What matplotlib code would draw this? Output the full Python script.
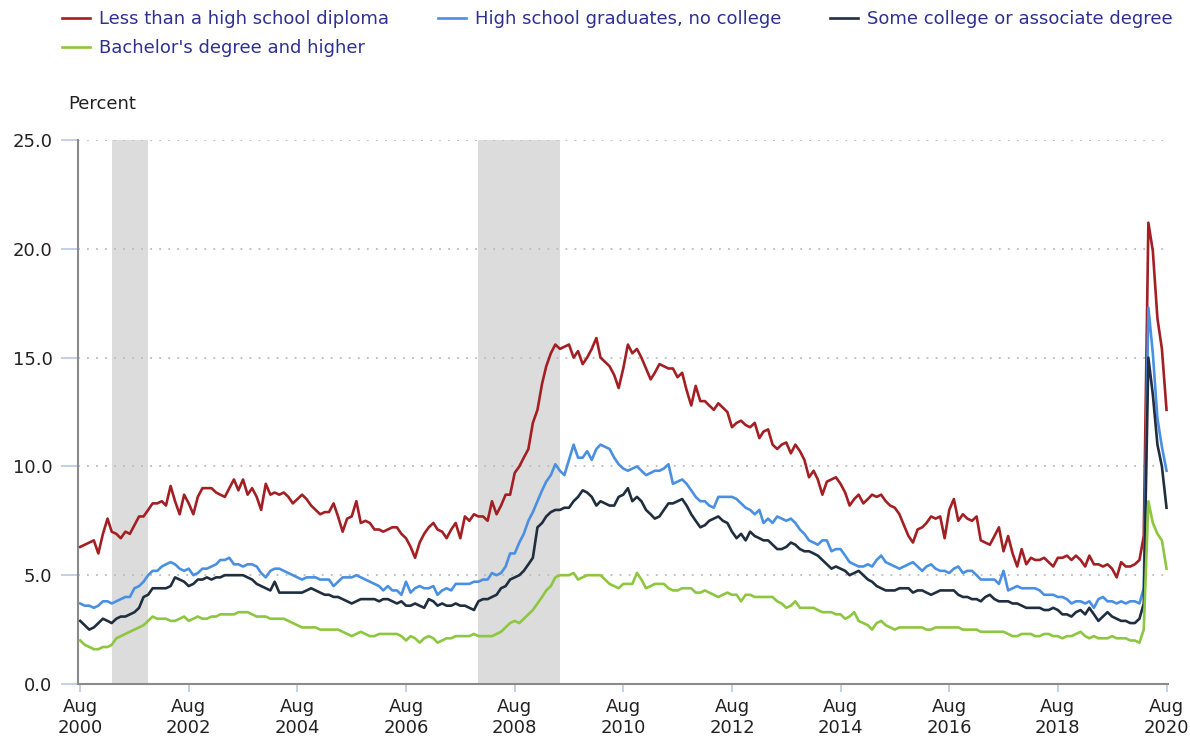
import numpy as np
import pandas as pd
import matplotlib
matplotlib.use('Agg')
import matplotlib.pyplot as plt

plt.rcParams['font.family'] = ['DejaVu Sans']

# Monthly unemployment rates, Aug 2000 - Aug 2020 (each row = Aug..Jul)
less_hs = [
    6.3, 6.4, 6.5, 6.6, 6.0, 6.9, 7.6, 7.0, 6.9, 6.7, 7.0, 6.9,
    7.3, 7.7, 7.7, 8.0, 8.3, 8.3, 8.4, 8.2, 9.1, 8.4, 7.8, 8.7,
    8.3, 7.8, 8.6, 9.0, 9.0, 9.0, 8.8, 8.7, 8.6, 9.0, 9.4, 8.9,
    9.4, 8.7, 9.0, 8.6, 8.0, 9.2, 8.7, 8.8, 8.7, 8.8, 8.6, 8.3,
    8.5, 8.7, 8.5, 8.2, 8.0, 7.8, 7.9, 7.9, 8.3, 7.7, 7.0, 7.6,
    7.7, 8.4, 7.4, 7.5, 7.4, 7.1, 7.1, 7.0, 7.1, 7.2, 7.2, 6.9,
    6.7, 6.3, 5.8, 6.5, 6.9, 7.2, 7.4, 7.1, 7.0, 6.7, 7.1, 7.4,
    6.7, 7.7, 7.5, 7.8, 7.7, 7.7, 7.5, 8.4, 7.8, 8.2, 8.7, 8.7,
    9.7, 10.0, 10.4, 10.8, 12.0, 12.6, 13.8, 14.6, 15.2, 15.6, 15.4, 15.5,
    15.6, 15.0, 15.3, 14.7, 15.0, 15.4, 15.9, 15.0, 14.8, 14.6, 14.2, 13.6,
    14.5, 15.6, 15.2, 15.4, 15.0, 14.5, 14.0, 14.3, 14.7, 14.6, 14.5, 14.5,
    14.1, 14.3, 13.5, 12.8, 13.7, 13.0, 13.0, 12.8, 12.6, 12.9, 12.7, 12.5,
    11.8, 12.0, 12.1, 11.9, 11.8, 12.0, 11.3, 11.6, 11.7, 11.0, 10.8, 11.0,
    11.1, 10.6, 11.0, 10.7, 10.3, 9.5, 9.8, 9.4, 8.7, 9.3, 9.4, 9.5,
    9.2, 8.8, 8.2, 8.5, 8.7, 8.3, 8.5, 8.7, 8.6, 8.7, 8.4, 8.2,
    8.1, 7.8, 7.3, 6.8, 6.5, 7.1, 7.2, 7.4, 7.7, 7.6, 7.7, 6.7,
    8.0, 8.5, 7.5, 7.8, 7.6, 7.5, 7.7, 6.6, 6.5, 6.4, 6.8, 7.2,
    6.1, 6.8, 6.0, 5.4, 6.2, 5.5, 5.8, 5.7, 5.7, 5.8, 5.6, 5.4,
    5.8, 5.8, 5.9, 5.7, 5.9, 5.7, 5.4, 5.9, 5.5, 5.5, 5.4, 5.5,
    5.3, 4.9, 5.6, 5.4, 5.4, 5.5, 5.7, 6.8, 21.2, 19.9, 16.8, 15.4,
    12.6,
]

hs_grad = [
    3.7, 3.6, 3.6, 3.5, 3.6, 3.8, 3.8, 3.7, 3.8, 3.9, 4.0, 4.0,
    4.4, 4.5, 4.7, 5.0, 5.2, 5.2, 5.4, 5.5, 5.6, 5.5, 5.3, 5.2,
    5.3, 5.0, 5.1, 5.3, 5.3, 5.4, 5.5, 5.7, 5.7, 5.8, 5.5, 5.5,
    5.4, 5.5, 5.5, 5.4, 5.1, 4.9, 5.2, 5.3, 5.3, 5.2, 5.1, 5.0,
    4.9, 4.8, 4.9, 4.9, 4.9, 4.8, 4.8, 4.8, 4.5, 4.7, 4.9, 4.9,
    4.9, 5.0, 4.9, 4.8, 4.7, 4.6, 4.5, 4.3, 4.5, 4.3, 4.3, 4.1,
    4.7, 4.2, 4.4, 4.5, 4.4, 4.4, 4.5, 4.1, 4.3, 4.4, 4.3, 4.6,
    4.6, 4.6, 4.6, 4.7, 4.7, 4.8, 4.8, 5.1, 5.0, 5.1, 5.4, 6.0,
    6.0, 6.5, 6.9, 7.5, 7.9, 8.4, 8.9, 9.3, 9.6, 10.1, 9.8, 9.6,
    10.3, 11.0, 10.4, 10.4, 10.7, 10.3, 10.8, 11.0, 10.9, 10.8, 10.4, 10.1,
    9.9, 9.8, 9.9, 10.0, 9.8, 9.6, 9.7, 9.8, 9.8, 9.9, 10.1, 9.2,
    9.3, 9.4, 9.2, 8.9, 8.6, 8.4, 8.4, 8.2, 8.1, 8.6, 8.6, 8.6,
    8.6, 8.5, 8.3, 8.1, 8.0, 7.8, 8.0, 7.4, 7.6, 7.4, 7.7, 7.6,
    7.5, 7.6, 7.4, 7.1, 6.9, 6.6, 6.5, 6.4, 6.6, 6.6, 6.1, 6.2,
    6.2, 5.9, 5.6, 5.5, 5.4, 5.4, 5.5, 5.4, 5.7, 5.9, 5.6, 5.5,
    5.4, 5.3, 5.4, 5.5, 5.6, 5.4, 5.2, 5.4, 5.5, 5.3, 5.2, 5.2,
    5.1, 5.3, 5.4, 5.1, 5.2, 5.2, 5.0, 4.8, 4.8, 4.8, 4.8, 4.6,
    5.2, 4.3, 4.4, 4.5, 4.4, 4.4, 4.4, 4.4, 4.3, 4.1, 4.1, 4.1,
    4.0, 4.0, 3.9, 3.7, 3.8, 3.8, 3.7, 3.8, 3.5, 3.9, 4.0, 3.8,
    3.8, 3.7, 3.8, 3.7, 3.8, 3.8, 3.7, 4.4, 17.3, 15.2, 12.2, 10.9,
    9.8,
]

some_college = [
    2.9, 2.7, 2.5, 2.6, 2.8, 3.0, 2.9, 2.8, 3.0, 3.1, 3.1, 3.2,
    3.3, 3.5, 4.0, 4.1, 4.4, 4.4, 4.4, 4.4, 4.5, 4.9, 4.8, 4.7,
    4.5, 4.6, 4.8, 4.8, 4.9, 4.8, 4.9, 4.9, 5.0, 5.0, 5.0, 5.0,
    5.0, 4.9, 4.8, 4.6, 4.5, 4.4, 4.3, 4.7, 4.2, 4.2, 4.2, 4.2,
    4.2, 4.2, 4.3, 4.4, 4.3, 4.2, 4.1, 4.1, 4.0, 4.0, 3.9, 3.8,
    3.7, 3.8, 3.9, 3.9, 3.9, 3.9, 3.8, 3.9, 3.9, 3.8, 3.7, 3.8,
    3.6, 3.6, 3.7, 3.6, 3.5, 3.9, 3.8, 3.6, 3.7, 3.6, 3.6, 3.7,
    3.6, 3.6, 3.5, 3.4, 3.8, 3.9, 3.9, 4.0, 4.1, 4.4, 4.5, 4.8,
    4.9, 5.0, 5.2, 5.5, 5.8, 7.2, 7.4, 7.7, 7.9, 8.0, 8.0, 8.1,
    8.1, 8.4, 8.6, 8.9, 8.8, 8.6, 8.2, 8.4, 8.3, 8.2, 8.2, 8.6,
    8.7, 9.0, 8.4, 8.6, 8.4, 8.0, 7.8, 7.6, 7.7, 8.0, 8.3, 8.3,
    8.4, 8.5, 8.2, 7.8, 7.5, 7.2, 7.3, 7.5, 7.6, 7.7, 7.5, 7.4,
    7.0, 6.7, 6.9, 6.6, 7.0, 6.8, 6.7, 6.6, 6.6, 6.4, 6.2, 6.2,
    6.3, 6.5, 6.4, 6.2, 6.1, 6.1, 6.0, 5.9, 5.7, 5.5, 5.3, 5.4,
    5.3, 5.2, 5.0, 5.1, 5.2, 5.0, 4.8, 4.7, 4.5, 4.4, 4.3, 4.3,
    4.3, 4.4, 4.4, 4.4, 4.2, 4.3, 4.3, 4.2, 4.1, 4.2, 4.3, 4.3,
    4.3, 4.3, 4.1, 4.0, 4.0, 3.9, 3.9, 3.8, 4.0, 4.1, 3.9, 3.8,
    3.8, 3.8, 3.7, 3.7, 3.6, 3.5, 3.5, 3.5, 3.5, 3.4, 3.4, 3.5,
    3.4, 3.2, 3.2, 3.1, 3.3, 3.4, 3.2, 3.5, 3.2, 2.9, 3.1, 3.3,
    3.1, 3.0, 2.9, 2.9, 2.8, 2.8, 3.0, 3.7, 15.0, 13.3, 11.0, 10.0,
    8.1,
]

bachelors = [
    2.0, 1.8, 1.7, 1.6, 1.6, 1.7, 1.7, 1.8, 2.1, 2.2, 2.3, 2.4,
    2.5, 2.6, 2.7, 2.9, 3.1, 3.0, 3.0, 3.0, 2.9, 2.9, 3.0, 3.1,
    2.9, 3.0, 3.1, 3.0, 3.0, 3.1, 3.1, 3.2, 3.2, 3.2, 3.2, 3.3,
    3.3, 3.3, 3.2, 3.1, 3.1, 3.1, 3.0, 3.0, 3.0, 3.0, 2.9, 2.8,
    2.7, 2.6, 2.6, 2.6, 2.6, 2.5, 2.5, 2.5, 2.5, 2.5, 2.4, 2.3,
    2.2, 2.3, 2.4, 2.3, 2.2, 2.2, 2.3, 2.3, 2.3, 2.3, 2.3, 2.2,
    2.0, 2.2, 2.1, 1.9, 2.1, 2.2, 2.1, 1.9, 2.0, 2.1, 2.1, 2.2,
    2.2, 2.2, 2.2, 2.3, 2.2, 2.2, 2.2, 2.2, 2.3, 2.4, 2.6, 2.8,
    2.9, 2.8, 3.0, 3.2, 3.4, 3.7, 4.0, 4.3, 4.5, 4.9, 5.0, 5.0,
    5.0, 5.1, 4.8, 4.9, 5.0, 5.0, 5.0, 5.0, 4.8, 4.6, 4.5, 4.4,
    4.6, 4.6, 4.6, 5.1, 4.8, 4.4, 4.5, 4.6, 4.6, 4.6, 4.4, 4.3,
    4.3, 4.4, 4.4, 4.4, 4.2, 4.2, 4.3, 4.2, 4.1, 4.0, 4.1, 4.2,
    4.1, 4.1, 3.8, 4.1, 4.1, 4.0, 4.0, 4.0, 4.0, 4.0, 3.8, 3.7,
    3.5, 3.6, 3.8, 3.5, 3.5, 3.5, 3.5, 3.4, 3.3, 3.3, 3.3, 3.2,
    3.2, 3.0, 3.1, 3.3, 2.9, 2.8, 2.7, 2.5, 2.8, 2.9, 2.7, 2.6,
    2.5, 2.6, 2.6, 2.6, 2.6, 2.6, 2.6, 2.5, 2.5, 2.6, 2.6, 2.6,
    2.6, 2.6, 2.6, 2.5, 2.5, 2.5, 2.5, 2.4, 2.4, 2.4, 2.4, 2.4,
    2.4, 2.3, 2.2, 2.2, 2.3, 2.3, 2.3, 2.2, 2.2, 2.3, 2.3, 2.2,
    2.2, 2.1, 2.2, 2.2, 2.3, 2.4, 2.2, 2.1, 2.2, 2.1, 2.1, 2.1,
    2.2, 2.1, 2.1, 2.1, 2.0, 2.0, 1.9, 2.5, 8.4, 7.4, 6.9, 6.6,
    5.3,
]

labels = ['Less than a high school diploma', 'High school graduates, no college',
          'Some college or associate degree', "Bachelor's degree and higher"]
colors = ['#A31F23', '#4A90E2', '#1F2F40', '#8DC63F']
recessions = [('2001-03-01', '2001-11-01'), ('2007-12-01', '2009-06-01')]
tick_years = list(range(2000, 2021, 2))

dates = pd.date_range('2000-08-01', '2020-08-01', freq='MS')

fig = plt.figure(figsize=(11.9, 7.47), dpi=100)
ax = fig.add_axes([77.5 / 1190, 1 - 684 / 747, (1168 - 77.5) / 1190, (684 - 140) / 747])

for start, end in recessions:
    ax.axvspan(pd.Timestamp(start), pd.Timestamp(end), color='#DCDCDC', lw=0, zorder=0)

handles = []
for vals, lab, col in zip([less_hs, hs_grad, some_college, bachelors], labels, colors):
    line, = ax.plot(dates, vals, color=col, lw=1.9, label=lab, zorder=3)
    handles.append(line)

ax.set_ylim(0, 25)
ax.set_xlim(pd.Timestamp('2000-08-01') - pd.Timedelta(days=18),
            pd.Timestamp('2020-08-01') + pd.Timedelta(days=10))
ax.set_yticks(np.arange(0, 26, 5))
ax.set_yticklabels([f'{v:.1f}' for v in np.arange(0, 26, 5)])
ax.set_xticks([pd.Timestamp(f'{y}-08-01') for y in tick_years])
ax.set_xticklabels([f'Aug\n{y}' for y in tick_years])

ax.yaxis.grid(True, linestyle=(0, (1, 4)), color='#BBBBBB', lw=1.3)
ax.set_axisbelow(True)
for s in ['top', 'right']:
    ax.spines[s].set_visible(False)
for s in ['left', 'bottom']:
    ax.spines[s].set_color('#8A8A8A')
    ax.spines[s].set_linewidth(1.5)

ax.tick_params(axis='y', length=12, width=1.2, color='#B5C8E6', pad=6,
               labelsize=13, labelcolor='#222222')
ax.tick_params(axis='x', length=6, width=1.2, color='#B5C8E6', pad=4,
               labelsize=13, labelcolor='#222222')

fig.text(68 / 1190, 1 - 104 / 747, 'Percent', ha='left', va='center',
         fontsize=13, color='#222222')

order = [0, 3, 1, 2]
fig.legend([handles[i] for i in order], [labels[i] for i in order],
           loc='upper left', bbox_to_anchor=(62 / 1190, 1 - 10 / 747), ncol=3,
           frameon=False, fontsize=13, handlelength=1.55, handletextpad=0.5,
           columnspacing=2.7, labelspacing=0.6, borderpad=0, borderaxespad=0,
           labelcolor='#2E3192')

fig.savefig('out.png', dpi=100)
